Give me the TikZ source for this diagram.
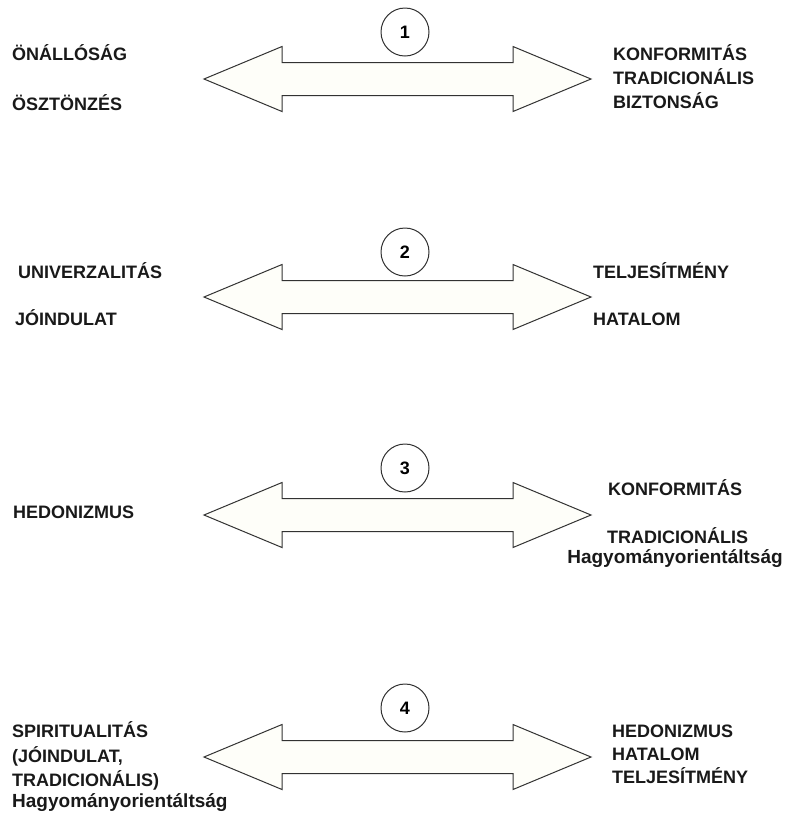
\documentclass[tikz,border=0pt]{standalone}
\usepackage{fontspec}
\setmainfont{Liberation Sans}
\definecolor{arrowfill}{RGB}{254,254,249}
\definecolor{linegray}{RGB}{50,50,50}
\tikzstyle{valuestyle} = [font={\fontsize{18}{24}\selectfont\bfseries}, inner sep=0pt, text=black!90, anchor=base west]
\tikzstyle{lowerstyle} = [valuestyle, font={\fontsize{19}{24}\selectfont\bfseries}]
\tikzstyle{numstyle} = [font={\fontsize{18}{24}\selectfont\bfseries}, shape=circle, minimum size=48pt, inner sep=0pt, draw=linegray, line width=1pt, fill=white]

\begin{document}
\begin{tikzpicture}[x=1pt,y=-1pt]
\useasboundingbox (0,0) rectangle (788,815);

% double arrows
\foreach \y in {79,297,515,757} {
\draw[linegray, line width=1pt, fill=arrowfill] (204,\y) -- (282,\y-32.5) -- (282,\y-16.5) -- (513,\y-16.5) -- (513,\y-32.5) -- (591,\y) -- (513,\y+32.5) -- (513,\y+16.5) -- (282,\y+16.5) -- (282,\y+32.5) -- cycle;
}

\node[numstyle] (n1) at (405,32) {1};
\node[numstyle] (n2) at (405,252) {2};
\node[numstyle] (n3) at (405,468) {3};
\node[numstyle] (n4) at (405,708) {4};

% row 1
\node[valuestyle] (l1a) at (12,60) {ÖNÁLLÓSÁG};
\node[valuestyle] (l1b) at (12,110) {ÖSZTÖNZÉS};
\node[valuestyle] (r1a) at (613,60) {KONFORMITÁS};
\node[valuestyle] (r1b) at (613,84) {TRADICIONÁLIS};
\node[valuestyle] (r1c) at (613,108) {BIZTONSÁG};

% row 2
\node[valuestyle] (l2a) at (18,278) {UNIVERZALITÁS};
\node[valuestyle] (l2b) at (15,325) {JÓINDULAT};
\node[valuestyle] (r2a) at (593,278) {TELJESÍTMÉNY};
\node[valuestyle] (r2b) at (593,325) {HATALOM};

% row 3
\node[valuestyle] (l3a) at (13,518) {HEDONIZMUS};
\node[valuestyle] (r3a) at (608,495) {KONFORMITÁS};
\node[valuestyle] (r3b) at (607,543) {TRADICIONÁLIS};
\node[lowerstyle, anchor=base] (r3c) at (675,563) {Hagyományorientáltság};

% row 4
\node[valuestyle] (l4a) at (12,737) {SPIRITUALITÁS};
\node[valuestyle] (l4b) at (12,762) {(JÓINDULAT,};
\node[valuestyle] (l4c) at (12,786) {TRADICIONÁLIS)};
\node[lowerstyle] (l4d) at (12,807) {Hagyományorientáltság};
\node[valuestyle] (r4a) at (612,737) {HEDONIZMUS};
\node[valuestyle] (r4b) at (612,760) {HATALOM};
\node[valuestyle] (r4c) at (612,783) {TELJESÍTMÉNY};
\end{tikzpicture}
\end{document}
